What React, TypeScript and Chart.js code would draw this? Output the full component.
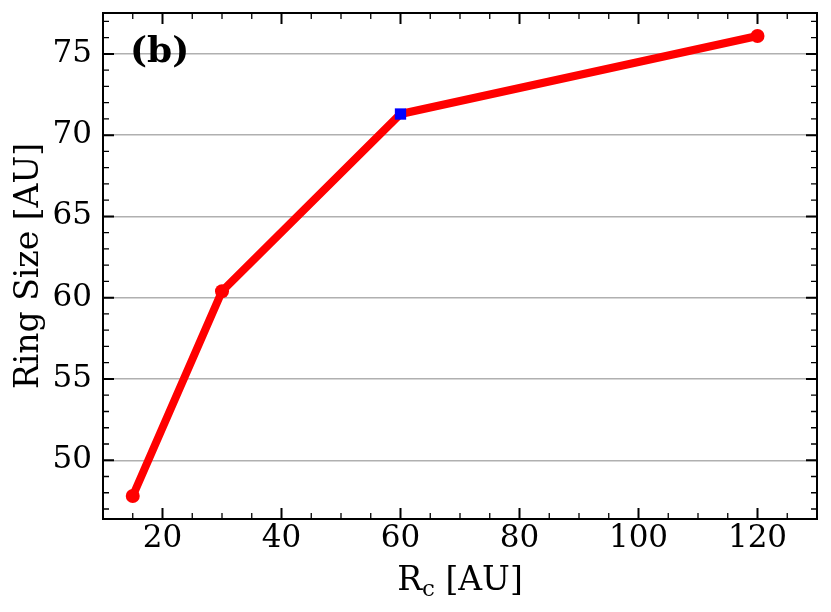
import React, { useEffect, useRef } from "react";
import { Chart, registerables } from "chart.js";

Chart.register(...registerables);

const rcValues = [15, 30, 60, 120];
const ringSize = [47.8, 60.4, 71.3, 76.1];
const pointStyles = ["circle", "circle", "rect", "circle"];
const pointColors = ["#ff0000", "#ff0000", "#0000ff", "#ff0000"];
const pointRadii = [7, 7, 8, 7];
const xTicks = [20, 40, 60, 80, 100, 120];
const yTicks = [50, 55, 60, 65, 70, 75];
const xMinorStep = 5;
const yMinorStep = 1;
const X_MIN = 10;
const X_MAX = 130;
const Y_MIN = 46.385;
const Y_MAX = 77.515;
const panelLabel = "(b)";
const yTitle = "Ring Size [AU]";

const FONT = "'DejaVu Serif', serif";

const framePlugin = {
  id: "frame",
  afterDraw(chart: any) {
    const { ctx, chartArea } = chart;
    const xs = chart.scales.x;
    const ys = chart.scales.y;
    const { left, right, top, bottom } = chartArea;
    ctx.save();
    ctx.strokeStyle = "#000";
    const drawX = (v: number, len: number, w: number) => {
      const p = xs.getPixelForValue(v);
      ctx.lineWidth = w;
      ctx.beginPath();
      ctx.moveTo(p, bottom);
      ctx.lineTo(p, bottom - len);
      ctx.moveTo(p, top);
      ctx.lineTo(p, top + len);
      ctx.stroke();
    };
    const drawY = (v: number, len: number, w: number) => {
      const p = ys.getPixelForValue(v);
      ctx.lineWidth = w;
      ctx.beginPath();
      ctx.moveTo(left, p);
      ctx.lineTo(left + len, p);
      ctx.moveTo(right, p);
      ctx.lineTo(right - len, p);
      ctx.stroke();
    };
    for (let v = Math.ceil(X_MIN / xMinorStep) * xMinorStep; v <= X_MAX; v += xMinorStep) {
      if (!xTicks.includes(v)) drawX(v, 6, 1.3);
    }
    for (let v = Math.ceil(Y_MIN / yMinorStep) * yMinorStep; v <= Y_MAX; v += yMinorStep) {
      if (!yTicks.includes(v)) drawY(v, 6, 1.3);
    }
    xTicks.forEach((v) => drawX(v, 11, 2));
    yTicks.forEach((v) => drawY(v, 11, 2));
    ctx.lineWidth = 2;
    ctx.strokeRect(left, top, right - left, bottom - top);

    // panel label
    ctx.fillStyle = "#000";
    ctx.font = `bold 36px ${FONT}`;
    ctx.textAlign = "left";
    ctx.textBaseline = "middle";
    ctx.fillText(panelLabel, 130, 53);

    // x title with subscript
    const mainFont = `33px ${FONT}`;
    const subFont = `23px ${FONT}`;
    ctx.font = mainFont;
    const partR = "R";
    const partRest = " [AU]";
    const wR = ctx.measureText(partR).width;
    const wRest = ctx.measureText(partRest).width;
    ctx.font = subFont;
    const wC = ctx.measureText("c").width;
    const total = wR + wC + wRest;
    const x0 = (left + right) / 2 - total / 2;
    const base = 590;
    ctx.textBaseline = "alphabetic";
    ctx.font = mainFont;
    ctx.fillText(partR, x0, base);
    ctx.font = subFont;
    ctx.fillText("c", x0 + wR, base + 6);
    ctx.font = mainFont;
    ctx.fillText(partRest, x0 + wR + wC, base);

    // y title
    ctx.translate(29, (top + bottom) / 2);
    ctx.rotate(-Math.PI / 2);
    ctx.textAlign = "center";
    ctx.textBaseline = "middle";
    ctx.fillText(yTitle, 0, 0);
    ctx.restore();
  },
};

export default function App() {
  const ref = useRef<HTMLCanvasElement | null>(null);
  useEffect(() => {
    if (!ref.current) return;
    const chart = new Chart(ref.current, {
      type: "line",
      data: {
        datasets: [
          {
            data: rcValues.map((x, i) => ({ x, y: ringSize[i] })),
            borderColor: "#ff0000",
            borderWidth: 8,
            pointStyle: pointStyles as any,
            pointBackgroundColor: pointColors,
            pointBorderColor: pointColors,
            pointBorderWidth: 0,
            pointRadius: pointRadii,
            tension: 0,
          },
        ],
      },
      options: {
        animation: false,
        responsive: false,
        devicePixelRatio: 1,
        layout: { padding: { left: 0, top: 13, right: 14, bottom: 0 } },
        plugins: { legend: { display: false }, tooltip: { enabled: false } },
        scales: {
          x: {
            type: "linear",
            min: X_MIN,
            max: X_MAX,
            afterBuildTicks: (s: any) => {
              s.ticks = xTicks.map((v) => ({ value: v }));
            },
            afterFit: (s: any) => {
              s.height = 612 - 519;
              s.paddingLeft = 0;
              s.paddingRight = 0;
            },
            grid: { display: false, drawTicks: false },
            border: { display: false },
            ticks: {
              color: "#000",
              font: { family: FONT, size: 31 },
              padding: 1,
              maxRotation: 0,
              autoSkip: false,
            },
          },
          y: {
            type: "linear",
            min: Y_MIN,
            max: Y_MAX,
            afterBuildTicks: (s: any) => {
              s.ticks = yTicks.map((v) => ({ value: v }));
            },
            afterFit: (s: any) => {
              s.width = 103;
              s.paddingTop = 0;
              s.paddingBottom = 0;
            },
            grid: { color: "#b0b0b0", lineWidth: 1.4, drawTicks: false },
            border: { display: false },
            ticks: {
              color: "#000",
              font: { family: FONT, size: 31 },
              padding: 11,
              autoSkip: false,
            },
          },
        },
      },
      plugins: [framePlugin],
    });
    return () => chart.destroy();
  }, []);
  return (
    <div style={{ position: "fixed", left: 0, top: 0, width: 831, height: 612, background: "#fff" }}>
      <canvas ref={ref} width={831} height={612} style={{ width: 831, height: 612 }} />
    </div>
  );
}
